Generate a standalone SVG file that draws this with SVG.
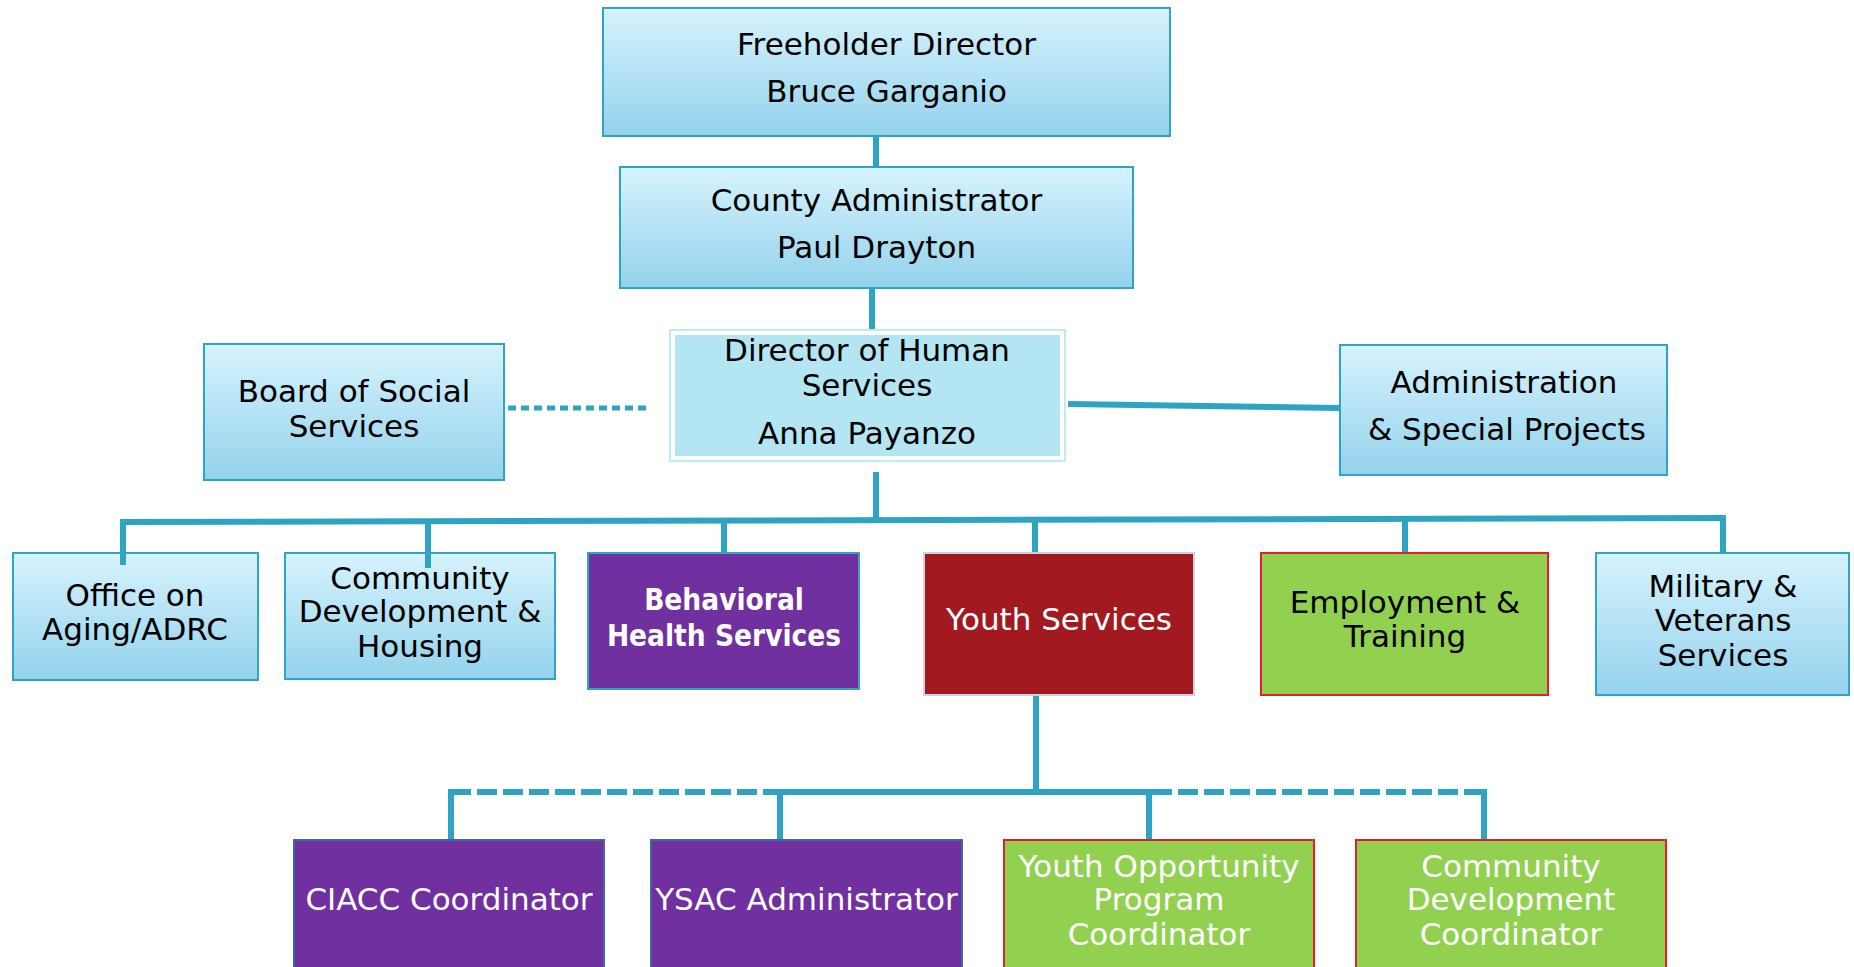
<svg xmlns="http://www.w3.org/2000/svg" width="1854" height="967" viewBox="0 0 1854 967">
<defs>
<linearGradient id="gBlue" x1="0" y1="0" x2="0" y2="1">
<stop offset="0" stop-color="#d6f3fd"/>
<stop offset="1" stop-color="#94d2ec"/>
</linearGradient>
<style>
.blue{fill:url(#gBlue);stroke:#2fa5c4;stroke-width:2}
.purple{fill:#7030a0;stroke:#2fa5c4;stroke-width:2}
.purple2{fill:#7030a0;stroke:#3f66a3;stroke-width:2}
.red{fill:#a2191f;stroke:#cdd1e4;stroke-width:2}
.green{fill:#92d050;stroke:#e21f26;stroke-width:2}
text{font-family:"DejaVu Sans","Liberation Sans",sans-serif;font-size:31px;text-anchor:middle;fill:#000}
.w{fill:#fff}
.b{font-family:"DejaVu Sans Condensed","DejaVu Sans",sans-serif;font-weight:bold;font-size:29.5px;fill:#fff}
.c{fill:none;stroke:#2ea3c2;stroke-width:6}
.dot{fill:none;stroke:#2ea3c2;stroke-width:5;stroke-dasharray:8 5}
.dash{fill:none;stroke:#2ea3c2;stroke-width:6;stroke-dasharray:20 6}
</style>
</defs>
<rect width="1854" height="967" fill="#fff"/>
<g id="freeholder">
<rect class="blue" x="603" y="8" width="567" height="128"/>
<text x="886.5" y="55">Freeholder Director</text>
<text x="886.5" y="102">Bruce Garganio</text>
</g>
<g id="county">
<rect class="blue" x="620" y="167" width="513" height="121"/>
<text x="876.5" y="211">County Administrator</text>
<text x="876.5" y="258">Paul Drayton</text>
</g>
<g id="director">
<rect x="670" y="330" width="395" height="131" fill="#fff" stroke="#bdeaf4" stroke-width="2"/>
<rect x="675" y="335" width="385" height="121" fill="#b3e6f2"/>
<text x="867" y="361">Director of Human</text>
<text x="867" y="396">Services</text>
<text x="867" y="444">Anna Payanzo</text>
</g>
<g id="board">
<rect class="blue" x="204" y="344" width="300" height="136"/>
<text x="354" y="402">Board of Social</text>
<text x="354" y="437">Services</text>
</g>
<g id="admin">
<rect class="blue" x="1340" y="345" width="327" height="130"/>
<text x="1504" y="393">Administration</text>
<text x="1507" y="440">&amp; Special Projects</text>
</g>
<g id="office">
<rect class="blue" x="13" y="553" width="245" height="127"/>
<text x="135" y="606">Office on</text>
<text x="135" y="640">Aging/ADRC</text>
</g>
<g id="community-housing">
<rect class="blue" x="285" y="553" width="270" height="126"/>
<text x="420" y="589">Community</text>
<text x="420" y="622">Development &amp;</text>
<text x="420" y="657">Housing</text>
</g>
<g id="behavioral">
<rect class="purple" x="588" y="553" width="271" height="136"/>
<text class="b" x="724" y="610">Behavioral</text>
<text class="b" x="724" y="646">Health Services</text>
</g>
<g id="youth">
<rect class="red" x="924" y="553" width="270" height="142"/>
<text class="w" x="1059" y="630">Youth Services</text>
</g>
<g id="employment">
<rect class="green" x="1261" y="553" width="287" height="142"/>
<text x="1405" y="613">Employment &amp;</text>
<text x="1405" y="647">Training</text>
</g>
<g id="military">
<rect class="blue" x="1596" y="553" width="253" height="142"/>
<text x="1723" y="597">Military &amp;</text>
<text x="1723" y="631">Veterans</text>
<text x="1723" y="666">Services</text>
</g>
<g id="ciacc">
<rect class="purple2" x="294" y="840" width="310" height="140"/>
<text class="w" x="449" y="910">CIACC Coordinator</text>
</g>
<g id="ysac">
<rect class="purple2" x="651" y="840" width="311" height="140"/>
<text class="w" x="806.5" y="910">YSAC Administrator</text>
</g>
<g id="youth-opportunity">
<rect class="green" x="1004" y="840" width="310" height="140"/>
<text class="w" x="1159" y="877">Youth Opportunity</text>
<text class="w" x="1159" y="910">Program</text>
<text class="w" x="1159" y="945">Coordinator</text>
</g>
<g id="community-dev-coord">
<rect class="green" x="1356" y="840" width="310" height="140"/>
<text class="w" x="1511" y="877">Community</text>
<text class="w" x="1511" y="910">Development</text>
<text class="w" x="1511" y="945">Coordinator</text>
</g>
<g id="connectors">
<path class="c" d="M876,137 V166"/>
<path class="c" d="M872,289 V329"/>
<path class="c" d="M876,472 V521"/>
<path class="c" d="M120,522 L1726,518"/>
<path class="c" d="M123,519 V565"/>
<path class="c" d="M428,520 V568"/>
<path class="c" d="M724,520 V552"/>
<path class="c" d="M1035,518 V552"/>
<path class="c" d="M1405,518 V552"/>
<path class="c" d="M1723,518 V552"/>
<path class="dot" d="M508,408 H648"/>
<path class="c" d="M1068,404 L1339,408"/>
<path class="c" d="M1036,696 V792"/>
<path class="c" d="M777,792 H1152"/>
<path class="c" d="M780,792 V839"/>
<path class="c" d="M1149,792 V839"/>
<path class="dash" d="M451,792 H777"/>
<path class="c" d="M451,789 V839"/>
<path class="dash" d="M1152,792 H1484"/>
<path class="c" d="M1484,789 V839"/>
</g>
</svg>
